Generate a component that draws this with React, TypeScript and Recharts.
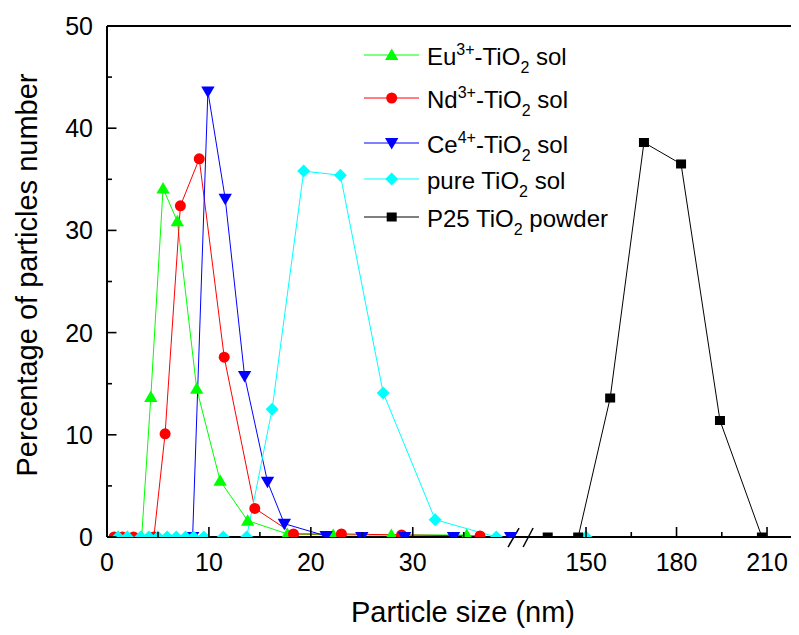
import React from 'react';
import { LineChart, Line, XAxis, YAxis, ReferenceLine, Legend, Label } from 'recharts';

// particle size (nm) / percentage of particles number
const euSize = [1.1, 2.0, 3.4, 4.3, 5.5, 6.9, 8.8, 11.1, 13.8, 17.7, 22.2, 27.9, 35.3];
const euPct = [0, 0, 0, 13.7, 34.1, 30.9, 14.5, 5.5, 1.6, 0.3, 0.2, 0.2, 0.2];

const ndSize = [0.7, 1.5, 2.6, 4.6, 5.7, 7.2, 9.05, 11.5, 14.5, 18.3, 23.0, 28.9, 36.6];
const ndPct = [0, 0, 0, 0, 10.1, 32.4, 37.0, 17.6, 2.8, 0.3, 0.3, 0.2, 0.1];

const ceSize = [8.4, 9.9, 11.6, 13.5, 15.75, 17.4, 21.5, 25.0, 29.2, 34.0, 39.6];
const cePct = [0, 43.6, 33.1, 15.75, 5.4, 1.3, 0.1, 0, 0, 0, 0];

const pureSize = [1.1, 2.0, 3.3, 4.1, 5.0, 5.9, 6.8, 7.7, 8.5, 9.5, 11.4, 13.7, 16.2, 19.3, 22.9, 27.1, 32.2, 38.2, 150];
const purePct = [0, 0, 0, 0, 0, 0, 0, 0, 0, 0, 0, 0, 12.5, 35.8, 35.4, 14.1, 1.7, 0, 0];

const p25Size = [137.3, 147.4, 158.0, 169.2, 181.5, 194.4, 208.3];
const p25Pct = [0, 0, 13.6, 38.6, 36.5, 11.4, 0];

const xTickNm = [0, 5, 10, 15, 20, 25, 30, 35, 150, 165, 180, 195, 210];
const xTickLabels = [0, 10, 20, 30, 150, 180, 210];
const yTickValues = [0, 5, 10, 15, 20, 25, 30, 35, 40, 45, 50];
const yTickLabels = [0, 10, 20, 30, 40, 50];

// broken x axis: 0-40 nm keeps its scale, 130-220 nm is squeezed after the break
const toAxis = (nm: number) => (nm < 100 ? nm : 47 + (nm - 150) * 0.296);
const X_MAX = 67.7;
const xTickAxis = xTickNm.map(toAxis);

const FONT = '"Liberation Sans", Arial, sans-serif';

type Shape = 'up' | 'circle' | 'down' | 'diamond' | 'square';

const build = (sizes: number[], pct: number[]) => sizes.map((s, i) => ({ x: toAxis(s), y: pct[i] }));

const series: { key: string; ion?: string; pre: string; color: string; shape: Shape; data: { x: number; y: number }[] }[] = [
  { key: 'eu', pre: 'Eu', ion: '3+', color: '#00ff00', shape: 'up', data: build(euSize, euPct) },
  { key: 'nd', pre: 'Nd', ion: '3+', color: '#ff0000', shape: 'circle', data: build(ndSize, ndPct) },
  { key: 'ce', pre: 'Ce', ion: '4+', color: '#0000ff', shape: 'down', data: build(ceSize, cePct) },
  { key: 'pure', pre: 'pure ', color: '#00ffff', shape: 'diamond', data: build(pureSize, purePct) },
  { key: 'p25', pre: 'P25 ', color: '#000000', shape: 'square', data: build(p25Size, p25Pct) },
];

const Marker = ({ cx, cy, shape, color }: { cx: number; cy: number; shape: Shape; color: string }) => {
  switch (shape) {
    case 'up':
      return <polygon points={`${cx},${cy - 6.5} ${cx + 6.7},${cy + 5} ${cx - 6.7},${cy + 5}`} fill={color} />;
    case 'down':
      return <polygon points={`${cx},${cy + 6.5} ${cx + 6.7},${cy - 5} ${cx - 6.7},${cy - 5}`} fill={color} />;
    case 'circle':
      return <circle cx={cx} cy={cy} r={5.5} fill={color} />;
    case 'diamond':
      return <polygon points={`${cx},${cy - 6.5} ${cx + 6.5},${cy} ${cx},${cy + 6.5} ${cx - 6.5},${cy}`} fill={color} />;
    default:
      return <rect x={cx - 5} y={cy - 4.5} width={10} height={9} fill={color} />;
  }
};

const XTick = (props: any) => {
  const { x, y, payload } = props;
  const i = xTickAxis.findIndex(v => Math.abs(v - payload.value) < 1e-6);
  const nm = xTickNm[i];
  const major = xTickLabels.includes(nm);
  return (
    <g>
      <line x1={x} x2={x} y1={y} y2={y - (major ? 10 : 5)} stroke="#000" strokeWidth={1.6} />
      {major && (
        <text x={x} y={y + 34} textAnchor="middle" fontSize={25} fontFamily={FONT} fill="#000">
          {nm}
        </text>
      )}
    </g>
  );
};

const YTick = (props: any) => {
  const { x, y, payload } = props;
  const major = yTickLabels.includes(payload.value);
  return (
    <g>
      <line x1={x} x2={x + (major ? 9.5 : 5)} y1={y} y2={y} stroke="#000" strokeWidth={1.6} />
      {major && (
        <text x={x - 14} y={y + 9} textAnchor="end" fontSize={25} fontFamily={FONT} fill="#000">
          {payload.value}
        </text>
      )}
    </g>
  );
};

// legend rows: marker centre and text baseline, relative to the legend box
const legendRowY = [25, 68, 113, 149, 187];

const LegendBox = () => (
  <svg width={280} height={210} style={{ fontFamily: FONT }}>
    {series.map((s, i) => {
      const cy = legendRowY[i];
      const base = cy + 9.5;
      return (
        <g key={s.key}>
          <line x1={14} x2={69} y1={cy} y2={cy} stroke={s.color} strokeWidth={1} />
          <Marker cx={41.7} cy={cy} shape={s.shape} color={s.color} />
          <text x={77} y={base} fontSize={24} fill="#000">
            {s.pre}
            {s.ion && (
              <tspan fontSize={16} dy={-9.5}>
                {s.ion}
              </tspan>
            )}
            <tspan fontSize={24} dy={s.ion ? 9.5 : 0}>
              {s.ion ? '-TiO' : 'TiO'}
            </tspan>
            <tspan fontSize={16} dy={8}>
              2
            </tspan>
            <tspan fontSize={24} dy={-8}>
              {s.key === 'p25' ? ' powder' : ' sol'}
            </tspan>
          </text>
        </g>
      );
    })}
  </svg>
);

export default function App() {
  return (
    <div style={{ fontFamily: FONT }}>
      <LineChart width={791} height={627} margin={{ top: 18, right: 2, bottom: 0, left: 0 }}>
        <XAxis
          type="number"
          dataKey="x"
          domain={[0, X_MAX]}
          ticks={xTickAxis}
          interval={0}
          tickSize={0}
          tickMargin={0}
          tickLine={false}
          tick={<XTick />}
          height={98}
          axisLine={{ stroke: '#000', strokeWidth: 2 }}
        >
          <Label
            content={({ viewBox }: any) => (
              <text
                x={viewBox.x + viewBox.width / 2 + 11}
                y={viewBox.y + viewBox.height - 13}
                textAnchor="middle"
                fontSize={29}
                fontFamily={FONT}
                fill="#000"
              >
                Particle size (nm)
              </text>
            )}
          />
        </XAxis>
        <YAxis
          type="number"
          domain={[0, 50]}
          allowDataOverflow
          ticks={yTickValues}
          interval={0}
          tickSize={0}
          tickMargin={0}
          tickLine={false}
          tick={<YTick />}
          width={99}
          axisLine={{ stroke: '#000', strokeWidth: 2 }}
        >
          <Label
            content={({ viewBox }: any) => {
              const cx = 28.5;
              const cy = viewBox.y + viewBox.height / 2 - 6.5;
              return (
                <text
                  x={cx}
                  y={cy}
                  transform={`rotate(-90, ${cx}, ${cy})`}
                  textAnchor="middle"
                  fontSize={29}
                  fontFamily={FONT}
                  fill="#000"
                >
                  Percentage of particles number
                </text>
              );
            }}
          />
        </YAxis>
        <ReferenceLine y={50} stroke="#000" strokeWidth={2} />
        <ReferenceLine x={X_MAX} stroke="#000" strokeWidth={2} />
        <ReferenceLine segment={[{ x: 39.35, y: -0.98 }, { x: 40.43, y: 0.88 }]} stroke="#000" strokeWidth={1.5} ifOverflow="visible" />
        <ReferenceLine segment={[{ x: 40.83, y: -0.98 }, { x: 41.81, y: 0.88 }]} stroke="#000" strokeWidth={1.5} ifOverflow="visible" />
        {series.map(s => (
          <Line
            key={s.key}
            data={s.data}
            dataKey="y"
            type="linear"
            stroke={s.color}
            strokeWidth={1}
            isAnimationActive={false}
            legendType="none"
            dot={(p: any) => <Marker key={`${s.key}-${p.index}`} cx={p.cx} cy={p.cy} shape={s.shape} color={s.color} />}
            activeDot={false}
          />
        ))}
        <Legend
          layout="vertical"
          align="center"
          verticalAlign="middle"
          wrapperStyle={{ left: 342, top: 22, width: 280 }}
          content={() => <LegendBox />}
        />
      </LineChart>
    </div>
  );
}
